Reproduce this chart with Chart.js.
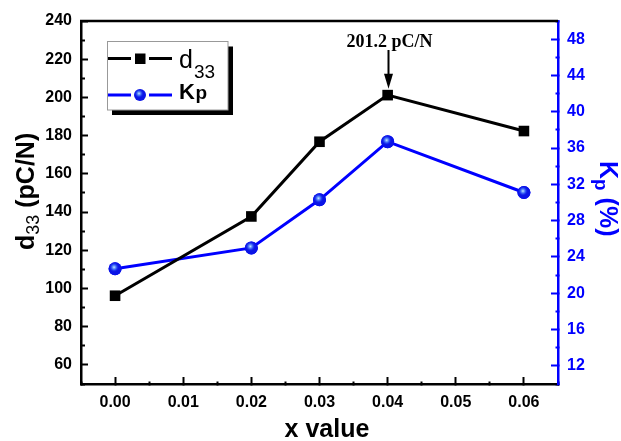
<!DOCTYPE html>
<html><head><meta charset="utf-8">
<script src="https://cdn.jsdelivr.net/npm/chart.js@4.4.1/dist/chart.umd.min.js"></script>
<style>html,body{margin:0;padding:0;background:#fff;}</style>
</head><body>
<canvas id="c" width="621" height="441" style="display:block;width:621px;height:441px"></canvas>
<script>
const xValues = [0, 0.02, 0.03, 0.04, 0.06];
const d33Values = [96.2, 137.7, 176.8, 201.2, 182.4];
const kpValues = [22.7, 25.0, 30.3, 36.7, 31.1];
const xTickLabels = ['0.00','0.01','0.02','0.03','0.04','0.05','0.06'];
const d33TickLabels = ['60','80','100','120','140','160','180','200','220','240'];
const kpTickLabels = ['12','16','20','24','28','32','36','40','44','48'];
const peakLabel = '201.2 pC/N';
const peakIndex = 3;

const BLUE = '#0000ff';
const SANS = '"Liberation Sans", Arial, sans-serif';
const SERIF = '"Liberation Serif", "Times New Roman", serif';

function xLabel(v) {
  const t = (Math.round(v * 1000) / 1000).toFixed(2);
  return (Math.abs(v * 100 - Math.round(v * 100)) < 1e-6 && xTickLabels.includes(t)) ? t : '';
}
function d33Label(v) { const s = String(Math.round(v)); return d33TickLabels.includes(s) ? s : ''; }
function kpLabel(v) { const s = String(Math.round(v)); return kpTickLabels.includes(s) ? s : ''; }

function sphere(ctx, x, y, r) {
  ctx.save();
  ctx.beginPath(); ctx.arc(x, y, r, 0, Math.PI*2);
  ctx.fillStyle = '#0a14e6'; ctx.fill();
  const g = ctx.createRadialGradient(x-1, y-1.5, 0, x-1, y-1.5, r*0.75);
  g.addColorStop(0, 'rgba(200,235,255,1)');
  g.addColorStop(0.45, 'rgba(90,150,255,0.7)');
  g.addColorStop(1, 'rgba(20,40,240,0)');
  ctx.beginPath(); ctx.arc(x, y, r, 0, Math.PI*2);
  ctx.fillStyle = g; ctx.fill();
  ctx.restore();
}

// inward tick marks drawn by the library itself (negative tick length);
// minor ticks are shortened with a dash pattern anchored at the axis line
function gridFor(labelFn, color, minorDash) {
  return {
    display: true, drawOnChartArea: false, drawTicks: true,
    tickLength: -7, tickWidth: 2,
    tickColor: color,
    tickBorderDash: ctx => (ctx.tick && labelFn(ctx.tick.value) === '') ? minorDash : []
  };
}

const decor = {
  id: 'decor',
  afterDatasetsDraw(chart) {
    const meta = chart.getDatasetMeta(1);
    meta.data.forEach(pt => sphere(chart.ctx, pt.x, pt.y, 6.5));
  },
  afterDraw(chart) {
    const ctx = chart.ctx, a = chart.chartArea;
    ctx.save();
    ctx.setLineDash([]);
    // top frame line
    ctx.strokeStyle = '#000'; ctx.lineWidth = 2.5;
    ctx.beginPath(); ctx.moveTo(a.left - 1, a.top); ctx.lineTo(a.right, a.top); ctx.stroke();

    // legend
    ctx.fillStyle = '#000';
    ctx.fillRect(112, 46.5, 121, 68.5);
    ctx.fillStyle = '#fff';
    ctx.fillRect(107, 41.5, 121, 68.5);
    ctx.strokeStyle = '#999'; ctx.lineWidth = 1;
    ctx.strokeRect(107.5, 41.5, 120.5, 68.5);
    ctx.lineWidth = 3;
    ctx.strokeStyle = '#000';
    ctx.beginPath(); ctx.moveTo(108, 58.5); ctx.lineTo(131, 58.5); ctx.moveTo(149, 58.5); ctx.lineTo(172, 58.5); ctx.stroke();
    ctx.fillStyle = '#000'; ctx.fillRect(135, 53.5, 10.5, 10.5);
    ctx.strokeStyle = BLUE;
    ctx.beginPath(); ctx.moveTo(108, 95); ctx.lineTo(131, 95); ctx.moveTo(149, 95); ctx.lineTo(172, 95); ctx.stroke();
    sphere(ctx, 140, 95, 6);
    ctx.fillStyle = '#000'; ctx.textBaseline = 'alphabetic'; ctx.textAlign = 'left';
    ctx.font = '25px ' + SANS; ctx.fillText('d', 179, 68);
    ctx.font = '19px ' + SANS; ctx.fillText('33', 194, 77.5);
    ctx.font = 'bold 22px ' + SANS; ctx.fillText('K', 179, 99);
    ctx.font = 'bold 19px ' + SANS; ctx.fillText('p', 195.5, 99);

    // peak annotation
    const pm = chart.getDatasetMeta(0).data[peakIndex];
    const px = Math.round(pm.x) + 0.5;
    ctx.font = 'bold 18px ' + SERIF; ctx.textAlign = 'center'; ctx.fillStyle = '#000';
    ctx.fillText(peakLabel, px + 1, 46.5);
    ctx.strokeStyle = '#000'; ctx.lineWidth = 2;
    ctx.beginPath(); ctx.moveTo(px, 50); ctx.lineTo(px, 76); ctx.stroke();
    const tipY = pm.y - 6.5;
    ctx.beginPath(); ctx.moveTo(px - 4.5, tipY - 15); ctx.lineTo(px + 4.5, tipY - 15); ctx.lineTo(px, tipY); ctx.closePath(); ctx.fill();

    // left axis title
    ctx.save();
    ctx.translate(34, 250); ctx.rotate(-Math.PI/2);
    ctx.textAlign = 'left'; ctx.fillStyle = '#000';
    ctx.font = 'bold 25px ' + SANS; ctx.fillText('d', 0, 0);
    let w = ctx.measureText('d').width;
    ctx.font = '18px ' + SANS; ctx.fillText('33', w, 5);
    w += ctx.measureText('33').width;
    ctx.font = 'bold 25px ' + SANS; ctx.fillText(' (pC/N)', w, 0);
    ctx.restore();

    // right axis title
    ctx.save();
    ctx.translate(600, 161); ctx.rotate(Math.PI/2);
    ctx.textAlign = 'left'; ctx.fillStyle = BLUE;
    ctx.font = 'bold 25px ' + SANS; ctx.fillText('K', 0, 0);
    let w2 = ctx.measureText('K').width;
    ctx.font = 'bold 19px ' + SANS; ctx.fillText('p', w2, 5);
    w2 += ctx.measureText('p').width;
    ctx.font = 'bold 25px ' + SANS; ctx.fillText(' (%)', w2, 0);
    ctx.restore();

    // x axis title
    ctx.font = 'bold 25px ' + SANS; ctx.textAlign = 'center'; ctx.fillStyle = '#000';
    ctx.fillText('x value', 327, 437);
    ctx.restore();
  }
};

new Chart(document.getElementById('c'), {
  type: 'line',
  data: {
    datasets: [
      {
        label: 'd33',
        data: xValues.map((x, i) => ({x, y: d33Values[i]})),
        yAxisID: 'y',
        borderColor: '#000', borderWidth: 3,
        pointStyle: 'rect', pointRadius: 7.5, pointBackgroundColor: '#000', pointBorderColor: '#000', pointBorderWidth: 0,
        tension: 0
      },
      {
        label: 'Kp',
        data: xValues.map((x, i) => ({x, y: kpValues[i]})),
        yAxisID: 'y1',
        borderColor: BLUE, borderWidth: 3,
        pointRadius: 6.5, pointBackgroundColor: BLUE, pointBorderWidth: 0,
        tension: 0
      }
    ]
  },
  options: {
    responsive: false,
    animation: false,
    devicePixelRatio: 1,
    layout: {padding: {top: 21, left: 0, right: 0, bottom: 0}},
    plugins: {legend: {display: false}, tooltip: {enabled: false}},
    scales: {
      x: {
        type: 'linear', min: -0.005, max: 0.065,
        grid: gridFor(xLabel, '#000', [4, 100]),
        border: {display: true, color: '#000', width: 2.5},
        afterFit: s => { s.height = 57; s.paddingLeft = 0; s.paddingRight = 0; },
        ticks: {
          stepSize: 0.005, autoSkip: false, maxRotation: 0, padding: 16,
          color: '#000', font: {family: SANS, size: 16, weight: 'bold'},
          callback: v => xLabel(v)
        }
      },
      y: {
        position: 'left', min: 50, max: 240,
        grid: gridFor(d33Label, '#000', [0, 3, 4, 100]),
        border: {display: true, color: '#000', width: 2.5},
        afterFit: s => { s.width = 81; s.paddingTop = 0; s.paddingBottom = 0; },
        ticks: {
          stepSize: 10, autoSkip: false, padding: 16,
          color: '#000', font: {family: SANS, size: 16, weight: 'bold'},
          callback: v => d33Label(v)
        }
      },
      y1: {
        position: 'right', min: 10, max: 50,
        grid: gridFor(kpLabel, BLUE, [4, 100]),
        border: {display: true, color: BLUE, width: 2.5},
        afterFit: s => { s.width = 63; s.paddingTop = 0; s.paddingBottom = 0; },
        ticks: {
          stepSize: 2, autoSkip: false, padding: 16,
          color: BLUE, font: {family: SANS, size: 16, weight: 'bold'},
          callback: v => kpLabel(v)
        }
      }
    }
  },
  plugins: [decor]
});
</script>
</body></html>
